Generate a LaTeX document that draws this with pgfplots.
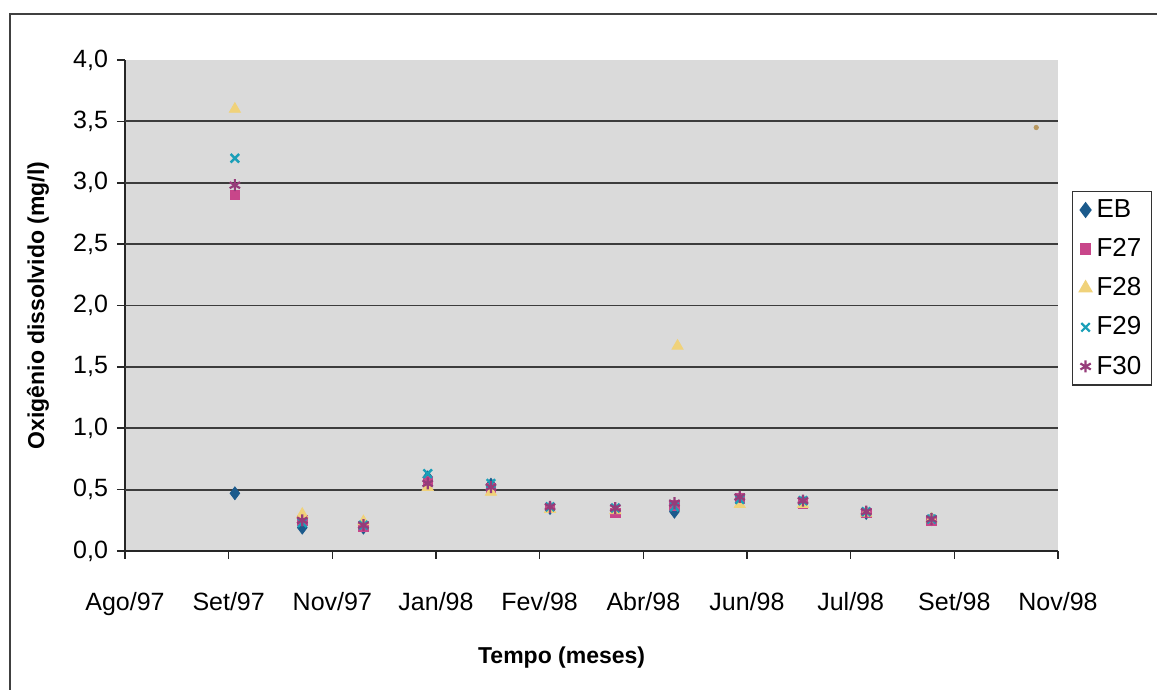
\documentclass[border=0pt]{standalone}
\usepackage{fontspec}
\setmainfont{Liberation Sans}
\usepackage{pgfplots}
\pgfplotsset{compat=1.18}
\definecolor{bggray}{RGB}{218,218,218}
\definecolor{gridc}{RGB}{60,60,60}
\definecolor{cEB}{RGB}{27,90,140}
\definecolor{cF27}{RGB}{200,70,138}
\definecolor{cF28}{RGB}{240,210,122}
\definecolor{cF29}{RGB}{26,159,184}
\definecolor{cF30}{RGB}{150,60,122}
\definecolor{ctan}{RGB}{184,152,96}
\begin{document}
\begin{tikzpicture}
\path[use as bounding box] (0,0) rectangle (578.5pt,345pt);
\draw[line width=0.9pt, black!75] (5pt,0) -- (5pt,338pt) -- (578.5pt,338pt);
\begin{axis}[
  at={(62.5pt,69.5pt)}, anchor=south west,
  scale only axis, width=466.5pt, height=245.5pt,
  xmin=0, xmax=9, ymin=0, ymax=4,
  axis lines*=left,
  axis line style={-, line width=0.8pt, black!85},
  axis background/.style={fill=bggray},
  xtick={0,1,...,9},
  xticklabels={Ago/97, Set/97, Nov/97, Jan/98, Fev/98, Abr/98, Jun/98, Jul/98, Set/98, Nov/98},
  ytick={0,0.5,...,4},
  extra y ticks={0.5,1,1.5,2,2.5,3,3.5},
  extra y tick labels={},
  extra y tick style={ymajorgrids=true, major tick length=0pt},
  y grid style={line width=0.9pt, gridc},
  tick align=outside,
  major tick length=4pt,
  tick style={line width=0.8pt, black!85},
  /pgf/number format/.cd, fixed, fixed zerofill, precision=1, use comma, assume math mode=true,
  /pgfplots/.cd,
  ticklabel style={font=\fontsize{12.5}{14}\selectfont},
  yticklabel style={xshift=-1pt},
  xticklabel style={yshift=-13pt},
  xlabel={Tempo (meses)},
  ylabel={Oxigênio dissolvido (mg/l)},
  xlabel style={font=\bfseries\fontsize{11.5}{13}\selectfont, at={(axis description cs:0.468,-0.218)}, anchor=center},
  ylabel style={font=\bfseries\fontsize{11.5}{13}\selectfont, at={(axis description cs:-0.0932,0.5)}, anchor=center},
  legend style={at={(axis description cs:1,0.535)}, anchor=west, xshift=7pt,
    draw=black!80, line width=0.6pt, fill=white,
    font=\fontsize{13}{15}\selectfont, row sep=5pt,
    nodes={inner sep=2pt}},
  legend cell align=left,
  legend image code/.code={\path[draw=none, fill=none] (0pt,-2pt) rectangle (7pt,2pt); \draw[#1, line width=1.1pt] plot coordinates {(3.5pt,0pt)};},
]
\addplot[only marks, mark=diamond*, mark size=3.2pt, color=cEB] coordinates {
(1.06,0.47) (1.71,0.19) (2.30,0.19) (2.92,0.60) (3.53,0.54) (4.10,0.35)
(4.73,0.33) (5.30,0.32) (5.93,0.42) (6.54,0.40) (7.15,0.31) (7.78,0.26)};
\addlegendentry{EB}
\addplot[only marks, mark=square*, mark size=2.4pt, color=cF27] coordinates {
(1.06,2.90) (1.71,0.25) (2.30,0.20) (2.92,0.57) (3.53,0.51) (4.10,0.35)
(4.73,0.31) (5.30,0.37) (5.93,0.43) (6.54,0.39) (7.15,0.31) (7.78,0.25)};
\addlegendentry{F27}
\addplot[only marks, mark=triangle*, mark size=3.2pt, color=cF28] coordinates {
(1.06,3.60) (1.71,0.30) (2.30,0.24) (2.92,0.52) (3.53,0.48) (4.10,0.34)
(4.73,0.33) (5.33,1.67) (5.93,0.38) (6.54,0.38) (7.15,0.31) (7.78,0.26)};
\addlegendentry{F28}
\addplot[only marks, mark=x, mark size=3pt, line width=1.2pt, color=cF29] coordinates {
(1.06,3.20) (1.71,0.23) (2.30,0.21) (2.92,0.63) (3.53,0.55) (4.10,0.36)
(4.73,0.35) (5.30,0.36) (5.93,0.42) (6.54,0.41) (7.15,0.32) (7.78,0.26)};
\addlegendentry{F29}
\addplot[only marks, mark=asterisk, mark size=3pt, line width=1.1pt, color=cF30] coordinates {
(1.06,2.98) (1.71,0.25) (2.30,0.21) (2.92,0.55) (3.53,0.52) (4.10,0.36)
(4.73,0.35) (5.30,0.39) (5.93,0.44) (6.54,0.41) (7.15,0.32) (7.78,0.26)};
\addlegendentry{F30}
\addplot[only marks, mark=*, mark size=1.1pt, color=ctan, forget plot] coordinates {(8.79,3.45)};
\end{axis}
\end{tikzpicture}
\end{document}
